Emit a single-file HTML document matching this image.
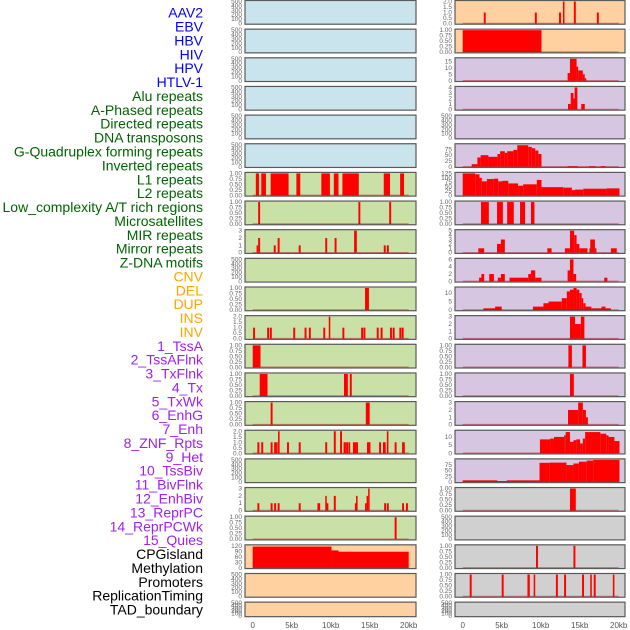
<!DOCTYPE html>
<html><head><meta charset="utf-8">
<style>
html,body{margin:0;padding:0;background:#fff;}
svg{display:block;font-family:"Liberation Sans",sans-serif;}
</style></head>
<body>
<svg id="chart" width="630" height="630" viewBox="0 0 630 630">
<g id="labels"></g>
<g id="panels"></g>
<g id="xaxis"></g>
</svg>
<script>
// ---- data ----
const trackLabels = ["AAV2","EBV","HBV","HIV","HPV","HTLV-1","Alu repeats","A-Phased repeats","Directed repeats","DNA transposons","G-Quadruplex forming repeats","Inverted repeats","L1 repeats","L2 repeats","Low_complexity A/T rich regions","Microsatellites","MIR repeats","Mirror repeats","Z-DNA motifs","CNV","DEL","DUP","INS","INV","1_TssA","2_TssAFlnk","3_TxFlnk","4_Tx","5_TxWk","6_EnhG","7_Enh","8_ZNF_Rpts","9_Het","10_TssBiv","11_BivFlnk","12_EnhBiv","13_ReprPC","14_ReprPCWk","15_Quies","CPGisland","Methylation","Promoters","ReplicationTiming","TAD_boundary"];
const labelGroupCounts = [6,13,5,15,5];
const labelGroupColors = ["#0000ff","#006400","#ffa500","#a020f0","#000000"];
const xTickValues = [0,5,10,15,20];
const xTickLabels = ["0","5kb","10kb","15kb","20kb"];

const emptyTicks = [0,100,200,300,400,500];
const unitTicks = [0,0.25,0.5,0.75,1];

const leftTicks = [emptyTicks,emptyTicks,emptyTicks,emptyTicks,emptyTicks,emptyTicks,
  unitTicks,unitTicks,[0,1,2,3],emptyTicks,unitTicks,[0,0.5,1,1.5,2],unitTicks,unitTicks,unitTicks,
  [0,0.5,1,1.5,2],emptyTicks,[0,1,2,3],unitTicks,[0,30,60,90,120],emptyTicks,emptyTicks];
const leftSegs = [[],[],[],[],[],[],
  [[0.4,0.8,1],[1.1,1.7,1],[2.3,4.6,1],[5.6,6.1,1],[8.8,9.9,1],[10.4,11,1],[11.5,13.6,1],[16.8,17.6,1],[18.9,19.4,1]],
  [[0.7,0.95,1],[13.55,13.8,1],[17.5,17.75,1]],
  [[0.5,0.7,1],[0.7,0.95,2],[2.7,2.95,1],[3.2,3.45,2],[5.9,6.15,1],[9.3,9.55,2],[10.5,10.75,2],[13.0,13.35,3],[16.8,17.05,1],[17.2,17.45,1]],
  [],
  [[14.4,14.9,1]],
  [[0.05,0.3,1],[1.85,2.1,1],[2.2,2.45,1],[5.2,5.45,1],[6.65,6.9,1],[7.2,7.45,1],[9.05,9.3,1],[9.75,9.95,2],[11.5,11.75,1],[13.9,14.15,1],[14.2,14.45,1],[15.9,16.15,1],[16.4,16.65,1],[17.6,17.85,1],[17.95,18.2,1],[18.8,19.05,1],[19.1,19.35,1]],
  [[0,1.0,1]],
  [[0.9,1.9,1],[11.7,12.2,1],[12.45,12.7,1]],
  [[2.3,2.55,1],[14.5,15.0,1]],
  [[0.6,0.85,1],[1.1,1.35,1],[2.3,2.55,1],[2.75,3.0,1],[3.0,3.2,1],[3.25,3.45,2],[4.4,4.65,1],[5.9,6.15,1],[9.3,9.55,1],[10.4,10.65,2],[11.2,11.45,2],[11.65,11.85,1],[11.85,12.05,1],[12.05,12.25,1],[12.3,12.5,1],[12.85,13.3,1],[13.3,13.5,1],[14.65,15.1,1],[16.2,16.45,1],[16.7,17.05,1],[17.2,17.4,2],[18.2,18.45,1],[19.15,19.5,1]],
  [],
  [[0.6,0.85,1],[2.3,2.55,1],[2.75,3.0,1],[3.2,3.45,1],[5.9,6.15,1],[8.3,8.65,1],[9.3,9.45,2],[9.45,9.7,1],[10.4,10.65,2],[13.1,13.25,1],[13.25,13.45,2],[14.4,14.6,1],[14.6,14.8,2],[14.8,14.95,3],[16.85,17.1,1],[17.2,17.45,1],[19.15,19.4,1],[19.65,19.9,1]],
  [[18.2,18.45,1]],
  [[0,10.1,116],[10.1,11,95],[11,20,88]],
  [],[]];

const rightTicks = [[0,0.5,1,1.5,2],unitTicks,[0,5,10,15],[0,1,2,3,4],emptyTicks,[0,25,50,75],
  [0,25,50,75,100,125],unitTicks,[0,1,2,3,4,5],[0,2,4,6],[0,5,10],[0,1,2,3],unitTicks,unitTicks,[0,1,2,3],
  [0,5,10],[0,25,50,75],unitTicks,emptyTicks,unitTicks,unitTicks,emptyTicks];
const rightMax = [2,1,17,4,500,95,125,1,5,6,13,3,1,1,3,13.5,98,1,500,1,1,500];
const rightSegs = [
  [[2.7,2.95,1],[9.25,9.5,1],[12.35,12.6,1],[12.85,13.05,2],[14.25,14.5,2],[17.2,17.45,1]],
  [[0,10.1,1]],
  [[13.45,13.75,6],[13.75,14.6,17],[14.6,14.8,11],[14.8,15.4,8],[15.4,15.65,5],[15.65,15.8,2]],
  [[13.5,13.85,1],[13.85,14.2,3],[14.2,14.35,2],[14.35,14.7,4],[15.2,15.65,1]],
  [],
  [[1.15,1.88,11],[1.88,2.3,40],[2.3,3.3,50],[3.3,4.45,43],[4.45,4.8,55],[4.8,5.4,67],[5.4,5.7,60],[5.7,6.5,67],[6.5,7.0,73],[7.0,8.4,93],[8.4,8.85,86],[8.85,9.3,80],[9.3,9.7,70],[9.7,10.1,55],[13.45,14.75,3],[16.2,17,3],[17.7,18.3,3]],
  [[0,1.6,125],[1.6,2.15,120],[2.15,2.45,100],[2.45,3.1,80],[3.1,4.0,93],[4.0,4.55,95],[4.55,5.1,80],[5.1,5.85,83],[5.85,7.1,68],[7.1,7.75,55],[7.75,9.5,63],[9.5,10.1,88],[10.1,12.9,47],[12.9,14.0,44],[14.0,14.4,30],[14.4,15.45,33],[15.45,18.45,38],[18.45,20.1,40]],
  [[2.35,3.35,1],[4.4,5.15,1],[5.7,6.55,1],[7.35,8.0,1],[8.75,9.2,1]],
  [[2.0,2.75,1],[4.4,4.9,2],[4.9,5.4,3],[10.85,11.4,1],[13.1,13.75,1],[13.75,14.3,5],[14.3,14.6,4],[14.6,14.95,2],[14.95,16.0,1],[16.25,16.35,1],[16.35,16.95,3],[16.95,17.1,1],[19.0,19.75,1]],
  [[2.1,2.4,1],[2.4,2.75,2],[3.4,4.0,2],[4.5,4.9,1],[4.9,5.4,2],[6.0,8.4,1],[8.4,8.75,2],[8.75,9.3,3],[9.3,10.1,1],[13.45,13.75,3],[13.75,14.2,6],[14.2,14.55,2],[18.15,18.55,1]],
  [[2.65,4.15,1],[4.15,5.0,2],[9.0,10.35,2],[10.35,11.0,4],[11.0,12.7,5],[12.7,13.35,7],[13.35,13.75,11],[13.75,14.2,12],[14.2,14.6,13],[14.6,14.95,12],[14.95,15.25,10],[15.25,15.45,7],[15.45,15.75,4],[15.75,16.5,2],[16.5,17.8,1],[17.8,18.3,2],[18.3,19.0,1]],
  [[13.75,14.4,3],[14.4,15.15,2],[15.15,15.6,3]],
  [[13.55,14.0,1],[15.35,15.8,1]],
  [[13.75,14.25,1]],
  [[13.5,14.8,2],[14.8,15.4,3],[15.4,15.8,2],[15.8,16.05,1]],
  [[9.9,11.2,8.5],[11.2,11.7,9],[11.7,13.0,10],[13.0,13.2,11],[13.2,13.75,13],[13.75,14.2,7],[14.2,14.55,8],[14.55,15.05,8.5],[15.05,15.4,6],[15.4,15.7,9],[15.7,17.65,13],[17.65,18.4,12],[18.4,18.7,11],[18.7,19.45,10],[19.45,20.1,7.5]],
  [[0,4.45,7],[4.45,5.65,4],[5.65,9.85,7],[9.85,11.15,85],[11.15,13.3,86],[13.3,14.2,75],[14.2,14.9,82],[14.9,15.9,90],[15.9,16.75,95],[16.75,20.1,98]],
  [[13.75,14.5,1]],
  [],
  [[9.4,9.65,1],[14.2,14.45,1]],
  [[0.9,1.15,1],[5.0,5.25,1],[8.3,8.6,1],[9.1,9.3,1],[11.95,12.2,1],[13.0,13.25,1],[15.3,15.55,1],[16.35,16.55,1],[16.8,17.05,1],[19.25,19.45,1]],
  []];
const leftColors = ["#c9e4ec","#c9e4ec","#c9e4ec","#c9e4ec","#c9e4ec","#c9e4ec","#c9e1a6","#c9e1a6","#c9e1a6","#c9e1a6","#c9e1a6","#c9e1a6","#c9e1a6","#c9e1a6","#c9e1a6","#c9e1a6","#c9e1a6","#c9e1a6","#c9e1a6","#ffd0a0","#ffd0a0","#ffd0a0"];
const rightColors = ["#ffd0a0","#ffd0a0","#d6c6e2","#d6c6e2","#d6c6e2","#d6c6e2","#d6c6e2","#d6c6e2","#d6c6e2","#d6c6e2","#d6c6e2","#d6c6e2","#d6c6e2","#d6c6e2","#d6c6e2","#d6c6e2","#d6c6e2","#d0d0d0","#d0d0d0","#d0d0d0","#d0d0d0","#d0d0d0"];

// ---- drawing ----
const NS = "http://www.w3.org/2000/svg";
function mk(tag, attrs, parent){const e=document.createElementNS(NS,tag);for(const k in attrs)e.setAttribute(k,attrs[k]);parent.appendChild(e);return e;}
const cols = [{x0:245,x1:416,kb0:252.7,tickX:242},{x0:455,x1:625,kb0:462.7,tickX:452}];
const kbScale = 7.8;
function sx(col,kb){return cols[col].kb0+kb*kbScale;}
function rowTop(i){return i*28.65;}
function rowH(i){return i===21?15.5:24.7;}

const lg = document.getElementById('labels');
let gi=0, cnt=0;
trackLabels.forEach((t,i)=>{
  while(cnt>=labelGroupCounts[gi]){gi++;cnt=0;}
  cnt++;
  const el=mk('text',{x:203,y:14+i*13.88,'text-anchor':'end','dominant-baseline':'middle','font-size':'14','fill':labelGroupColors[gi]},lg);
  el.textContent=t;
  
  
});

const pg=document.getElementById('panels');
function drawPanel(col,i,ticks,maxV,segs,fill){
  const top=rowTop(i),h=rowH(i);
  const c=cols[col];
  const g=mk('g',{},pg);
  
  
  const bg=mk('rect',{x:c.x0,y:top,width:c.x1-c.x0,height:h,fill:fill},g);
  
  
  const y0=top+h-1.2, yT=top+1.5;
  const sy=v=>y0-(v/maxV)*(y0-yT);
  ticks.forEach(tv=>{
    const tl=mk('text',{x:c.tickX,y:sy(tv)+2,'text-anchor':'end','font-size':'6.5','fill':'#666'},g);
    let s=String(tv);
    if(ticks===unitTicks) s=tv.toFixed(2);
    else if(ticks.some(v=>v%1!==0)) s=tv.toFixed(1);
    tl.textContent=s;
    
    
  });
  segs.forEach(s=>{
    const x1=sx(col,s[0]),x2=sx(col,s[1]);
    const r=mk('rect',{x:x1,y:sy(s[2]),width:Math.max(1.5,x2-x1),height:y0-sy(s[2]),fill:'#ff0000'},g);
    
    
  });
  if(ticks!==emptyTicks){
    const bl=mk('line',{x1:sx(col,0),x2:sx(col,20),y1:y0,y2:y0,stroke:'rgba(200,0,0,0.45)','stroke-width':1.5},g);
    
    
  }
  const br=mk('rect',{x:c.x0,y:top+0.5,width:c.x1-c.x0,height:h-1,fill:'none',stroke:'#5a5a5a','stroke-width':1.2},g);
  
  
}
for(let i=0;i<22;i++){
  const lt=leftTicks[i];
  drawPanel(0,i,lt,lt[lt.length-1],leftSegs[i],leftColors[i]);
  drawPanel(1,i,rightTicks[i],rightMax[i],rightSegs[i],rightColors[i]);
}
const xg=document.getElementById('xaxis');
[0,1].forEach(col=>{
  xTickValues.forEach((v,k)=>{
    const t=mk('text',{x:sx(col,v),y:628,'text-anchor':'middle','font-size':'8','fill':'#555'},xg);
    t.textContent=xTickLabels[k];
    
    
  });
});
</script>
</body></html>
